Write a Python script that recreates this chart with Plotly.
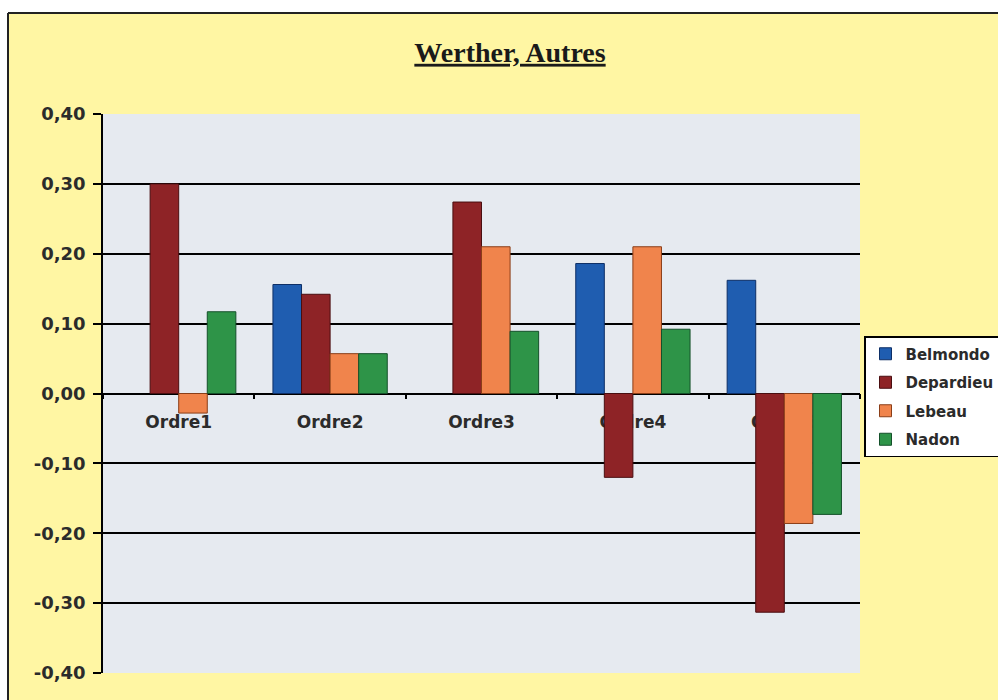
import plotly.graph_objects as go

# Data
categories = ["Ordre1", "Ordre2", "Ordre3", "Ordre4", "Ordre5"]
belmondo = [None, 0.156, None, 0.186, 0.162]
depardieu = [0.300, 0.142, 0.274, -0.120, -0.313]
lebeau = [-0.028, 0.057, 0.210, 0.210, -0.186]
nadon = [0.117, 0.057, 0.089, 0.092, -0.173]
y_ticks = [-0.4, -0.3, -0.2, -0.1, 0.0, 0.1, 0.2, 0.3, 0.4]
y_tick_text = [f"{v:.2f}".replace(".", ",") for v in y_ticks]

series = [
    ("Belmondo", belmondo, "#1F5DB0", "#0E2F66"),
    ("Depardieu", depardieu, "#8E2326", "#4A0E10"),
    ("Lebeau", lebeau, "#F0844C", "#8A3E18"),
    ("Nadon", nadon, "#2E9448", "#14502A"),
]

fig = go.Figure()
for name, vals, color, edge in series:
    fig.add_trace(go.Bar(
        x=categories, y=vals, name=name, legendgroup=name,
        marker=dict(color=color, line=dict(color=edge, width=1)),
    ))

W, H = 998, 700
L, R, T, B = 103, 138, 114, 27
pw, ph = W - L - R, H - T - B


def px_x(p):
    return (p - L) / pw


def px_y(p):
    return (H - B - p) / ph


text_color = "#2b2b2b"

fig.update_layout(
    width=W, height=H,
    margin=dict(l=L, r=R, t=T, b=B, pad=0, autoexpand=False),
    paper_bgcolor="#FFF6A3",
    plot_bgcolor="#E6EAF0",
    barmode="group",
    bargap=0.245,
    bargroupgap=0.0,
    title=dict(
        text="<b><u>Werther, Autres</u></b>",
        font=dict(family="Liberation Serif", size=28, color="#1a1a1a"),
        x=px_x(510), xref="paper", xanchor="center",
        y=1 - 52 / H, yref="container", yanchor="middle",
    ),
    showlegend=True,
    legend=dict(
        x=px_x(864), y=px_y(336), xanchor="left", yanchor="top",
        bgcolor="white", bordercolor="black", borderwidth=1.5,
        font=dict(family="DejaVu Sans", size=15, color=text_color, weight="bold"),
        itemwidth=30, tracegroupgap=6,
    ),
    xaxis=dict(
        type="category",
        anchor="free", position=0.5, side="bottom",
        showline=True, linecolor="black", linewidth=1.5,
        ticks="outside", ticklen=5, tickcolor="black", tickwidth=1.5,
        tickson="boundaries",
        showgrid=False,
        layer="below traces",
        ticklabelstandoff=13,
        tickfont=dict(family="DejaVu Sans", size=17, color=text_color, weight="bold"),
    ),
    yaxis=dict(
        range=[-0.4, 0.4],
        tickvals=y_ticks,
        ticktext=y_tick_text,
        showline=True, linecolor="black", linewidth=1.5,
        ticks="outside", ticklen=8, tickcolor="black", tickwidth=1.5,
        showgrid=True, gridcolor="black", gridwidth=1.5,
        zeroline=True, zerolinecolor="black", zerolinewidth=1.5,
        tickfont=dict(family="DejaVu Sans", size=18, color=text_color, weight="bold"),
        ticklabelstandoff=4,
    ),
    shapes=[
        # white margin outside the chart frame
        dict(type="rect", xref="paper", yref="paper",
             x0=px_x(0), x1=px_x(8), y0=px_y(H), y1=px_y(0),
             fillcolor="white", line=dict(width=0), layer="above"),
        dict(type="rect", xref="paper", yref="paper",
             x0=px_x(0), x1=px_x(W), y0=px_y(13), y1=px_y(0),
             fillcolor="white", line=dict(width=0), layer="above"),
        # frame lines
        dict(type="line", xref="paper", yref="paper",
             x0=px_x(8), x1=px_x(W), y0=px_y(13), y1=px_y(13),
             line=dict(color="#222222", width=2), layer="above"),
        dict(type="line", xref="paper", yref="paper",
             x0=px_x(8), x1=px_x(8), y0=px_y(13), y1=px_y(H),
             line=dict(color="#222222", width=2), layer="above"),
    ],
)

fig.write_html("out.html")
